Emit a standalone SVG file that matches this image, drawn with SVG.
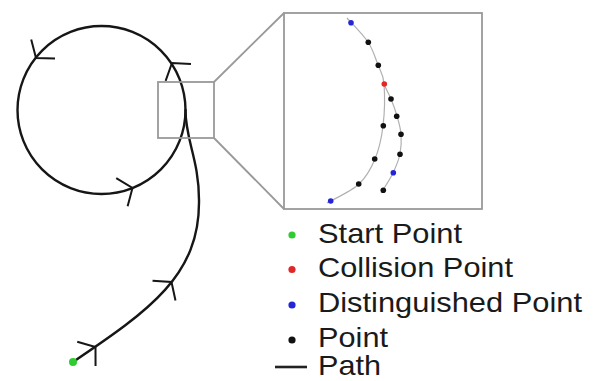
<svg xmlns="http://www.w3.org/2000/svg" xmlns:xlink="http://www.w3.org/1999/xlink" width="601" height="381" viewBox="0 0 601 381">
<style>
.path{fill:none;stroke:#161616;stroke-width:2.4;stroke-linecap:round}
.chev{fill:none;stroke:#161616;stroke-width:2;stroke-linejoin:miter}
.frame{fill:none;stroke:#999;stroke-width:1.8}
.fine{fill:none;stroke:#b0b0b0;stroke-width:1.2}
.lbl{font-family:"Liberation Sans",Arial,sans-serif;font-size:28px;fill:#1a1a1a}
.pt{fill:#111}.dp{fill:#2424d8}.cp{fill:#e02828}.sp{fill:#2fcc2f}
</style>
<defs>
<path id="chev" class="chev" d="M-11.4,-15.2 L0,0 L-11.4,15.2"/>
</defs>
<rect width="601" height="381" fill="#fff"/>
<g id="walk">
<circle class="path" cx="101.5" cy="110" r="84"/>
<path class="path" d="M73,362 C150,310 200,275 199,200 C199,160 185.5,140 185.5,110"/>
<use href="#chev" transform="translate(36,58) rotate(128.5)"/>
<use href="#chev" transform="translate(172,63) rotate(-123.5)"/>
<use href="#chev" transform="translate(132.5,188) rotate(-22)"/>
<use href="#chev" transform="translate(95.5,347) rotate(-37)"/>
<use href="#chev" transform="translate(171.5,282) rotate(-49)"/>
<circle class="sp" cx="73" cy="362" r="4"/>
</g>
<g id="zoom">
<rect class="frame" x="158" y="82" width="56" height="56"/>
<line class="frame" x1="214" y1="82" x2="284" y2="13"/>
<line class="frame" x1="214" y1="138" x2="284" y2="209"/>
<rect class="frame" x="284" y="13" width="198" height="196"/>
<path class="fine" d="M347,18 C350.5,22 362.8,34.2 368,42 C373.2,49.8 375.3,58 378,65 C380.7,72 383.2,73.8 384,84 C384.8,94.2 384.5,113.5 383,126 C381.5,138.5 379,149.3 375,159 C371,168.7 366.3,177 359,184 C351.7,191 335.7,198.2 327,203"/>
<path class="fine" d="M384,84 C386.2,89.7 388.8,93.7 391,99 C393.2,104.3 395.3,110.2 397,116 C398.7,121.8 400.5,127.7 401,134 C401.5,140.3 401.3,147.5 400,154 C398.7,160.5 395.8,167 393,173 C390.2,179 384.7,187.2 381,193"/>
<circle class="dp" cx="351" cy="22.7" r="2.8"/>
<circle class="pt" cx="368.3" cy="42.3" r="2.8"/>
<circle class="pt" cx="378.3" cy="65.3" r="2.8"/>
<circle class="cp" cx="384.3" cy="84" r="2.8"/>
<circle class="pt" cx="391" cy="99" r="2.8"/>
<circle class="pt" cx="396.7" cy="116.3" r="2.8"/>
<circle class="pt" cx="401" cy="134.3" r="2.8"/>
<circle class="pt" cx="400" cy="154.3" r="2.8"/>
<circle class="dp" cx="393.3" cy="172.7" r="2.8"/>
<circle class="pt" cx="383.3" cy="190.3" r="2.8"/>
<circle class="pt" cx="383.3" cy="125.7" r="2.8"/>
<circle class="pt" cx="374.7" cy="159" r="2.8"/>
<circle class="pt" cx="358.7" cy="184" r="2.8"/>
<circle class="dp" cx="330.7" cy="201" r="2.8"/>
</g>
<g id="legend">
<circle class="sp" cx="292" cy="235" r="3.6"/>
<text class="lbl" x="318" y="242.5" textLength="144" lengthAdjust="spacingAndGlyphs">Start Point</text>
<circle class="cp" cx="292" cy="269.5" r="3.6"/>
<text class="lbl" x="318" y="277.3" textLength="195" lengthAdjust="spacingAndGlyphs">Collision Point</text>
<circle class="dp" cx="292" cy="305" r="3.6"/>
<text class="lbl" x="318" y="312" textLength="264" lengthAdjust="spacingAndGlyphs">Distinguished Point</text>
<circle class="pt" cx="292" cy="340" r="3.6"/>
<text class="lbl" x="318" y="346.8" textLength="70" lengthAdjust="spacingAndGlyphs">Point</text>
<line x1="275" y1="367" x2="307" y2="367" stroke="#222" stroke-width="2.6"/>
<text class="lbl" x="318" y="375" textLength="63" lengthAdjust="spacingAndGlyphs">Path</text>
</g>
</svg>
